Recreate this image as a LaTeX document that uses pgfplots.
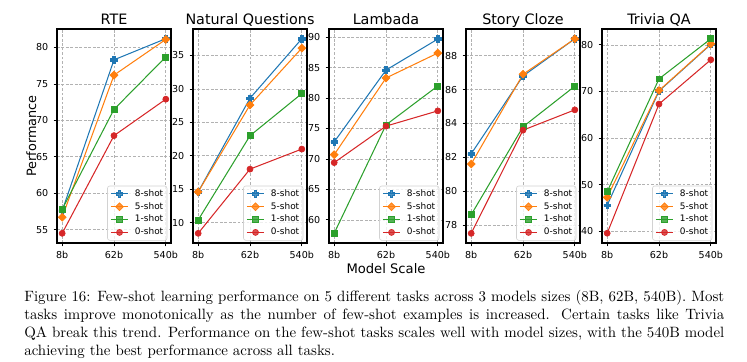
\documentclass[border=0pt]{standalone}
\usepackage{pgfplots}
\pgfplotsset{compat=1.18}
\usepackage{fontspec}
\newfontfamily\dejavu{DejaVu Sans}
\definecolor{tabblue}{HTML}{1F77B4}
\definecolor{taborange}{HTML}{FF7F0E}
\definecolor{tabgreen}{HTML}{2CA02C}
\definecolor{tabred}{HTML}{D62728}
\pgfdeclareplotmark{Pplus}{%
  \pgfpathmoveto{\pgfqpoint{0.36\pgfplotmarksize}{\pgfplotmarksize}}%
  \pgfpathlineto{\pgfqpoint{0.36\pgfplotmarksize}{0.36\pgfplotmarksize}}%
  \pgfpathlineto{\pgfqpoint{\pgfplotmarksize}{0.36\pgfplotmarksize}}%
  \pgfpathlineto{\pgfqpoint{\pgfplotmarksize}{-0.36\pgfplotmarksize}}%
  \pgfpathlineto{\pgfqpoint{0.36\pgfplotmarksize}{-0.36\pgfplotmarksize}}%
  \pgfpathlineto{\pgfqpoint{0.36\pgfplotmarksize}{-\pgfplotmarksize}}%
  \pgfpathlineto{\pgfqpoint{-0.36\pgfplotmarksize}{-\pgfplotmarksize}}%
  \pgfpathlineto{\pgfqpoint{-0.36\pgfplotmarksize}{-0.36\pgfplotmarksize}}%
  \pgfpathlineto{\pgfqpoint{-\pgfplotmarksize}{-0.36\pgfplotmarksize}}%
  \pgfpathlineto{\pgfqpoint{-\pgfplotmarksize}{0.36\pgfplotmarksize}}%
  \pgfpathlineto{\pgfqpoint{-0.36\pgfplotmarksize}{0.36\pgfplotmarksize}}%
  \pgfpathlineto{\pgfqpoint{-0.36\pgfplotmarksize}{\pgfplotmarksize}}%
  \pgfpathclose\pgfusepathqfillstroke}
\pgfdeclareplotmark{Dmark}{%
  \pgfpathmoveto{\pgfqpoint{0pt}{\pgfplotmarksize}}%
  \pgfpathlineto{\pgfqpoint{\pgfplotmarksize}{0pt}}%
  \pgfpathlineto{\pgfqpoint{0pt}{-\pgfplotmarksize}}%
  \pgfpathlineto{\pgfqpoint{-\pgfplotmarksize}{0pt}}%
  \pgfpathclose\pgfusepathqfillstroke}
\pgfplotsset{
  every axis title shift=0pt,
  panel/.style={
    anchor=south west, scale only axis, width=76.38pt, height=143.38pt,
    xmin=-0.1, xmax=2.1, xtick={0,1,2}, xticklabels={8b,62b,540b},
    grid=major, grid style={dash pattern=on 1.8pt off 1.2pt, gray!60, line width=0.45pt},
    axis line style={line width=0.7pt},
    tick align=outside, tick pos=left, major tick length=2.3pt,
    tick style={black, line width=0.5pt},
    /pgf/number format/assume math mode=true,
    ticklabel style={font=\dejavu\fontsize{6.4}{7}\selectfont},
    title style={font=\dejavu\fontsize{9.6}{10}\selectfont, at={(0.5,1)}, anchor=base, yshift=3.1pt},
    ylabel style={font=\dejavu\fontsize{8.6}{9}\selectfont},
    ylabel shift=-7pt,
    xlabel style={font=\dejavu\fontsize{8.8}{9}\selectfont},
    xlabel shift=-4pt,
    legend cell align=left,
    legend image code/.code={\draw[mark repeat=2,mark phase=2] plot coordinates {(0pt,0pt) (5.8pt,0pt) (11.6pt,0pt)};},
    legend style={at={(1,0)}, anchor=south east, xshift=-2.5pt, yshift=1.6pt,
      draw=gray!35, rounded corners=1.5pt, fill=white, fill opacity=0.8, text opacity=1,
      font=\dejavu\fontsize{6.0}{6.5}\selectfont, inner xsep=1.9pt, inner ysep=1.8pt, row sep=1.6pt,
      nodes={inner sep=0.6pt, text height=4.5pt, text depth=1.3pt},
      /tikz/every odd column/.append style={column sep=3.6pt}},
  },
  s8/.style={tabblue, line width=0.7pt, mark=Pplus, mark size=2.2pt, mark options={solid, fill=tabblue, line width=0.5pt}},
  s5/.style={taborange, line width=0.7pt, mark=Dmark, mark size=2.6pt, mark options={solid, fill=taborange, line width=0.5pt}},
  s1/.style={tabgreen, line width=0.7pt, mark=square*, mark size=2.0pt, mark options={solid, fill=tabgreen, line width=0.5pt}},
  s0/.style={tabred, line width=0.7pt, mark=*, mark size=2.0pt, mark options={solid, fill=tabred, line width=0.5pt}},
}
\begin{document}
\begin{tikzpicture}
\useasboundingbox (0pt,0pt) rectangle (500.49pt,-242.54pt);
% RTE
\begin{axis}[panel, at={(38.19pt,-162.81pt)}, title={RTE}, ylabel={Performance},
  ymin=53.17, ymax=82.53, ytick={55,60,65,70,75,80}]
\addplot[s8] coordinates {(0,57.6) (1,78.3) (2,81.2)};
\addplot[s5] coordinates {(0,56.7) (1,76.2) (2,81.1)};
\addplot[s1] coordinates {(0,57.8) (1,71.5) (2,78.7)};
\addplot[s0] coordinates {(0,54.5) (1,67.9) (2,72.9)};
\legend{8-shot,5-shot,1-shot,0-shot}
\end{axis}
% Natural Questions
\begin{axis}[panel, at={(129.31pt,-162.81pt)}, title={Natural Questions},
  ymin=6.95, ymax=38.96, ytick={10,15,20,25,30,35}]
\addplot[s8] coordinates {(0,14.6) (1,28.6) (2,37.5)};
\addplot[s5] coordinates {(0,14.6) (1,27.6) (2,36.1)};
\addplot[s1] coordinates {(0,10.4) (1,23.0) (2,29.3)};
\addplot[s0] coordinates {(0,8.4) (1,18.0) (2,21.0)};
\legend{8-shot,5-shot,1-shot,0-shot}
\end{axis}
% Lambada
\begin{axis}[panel, at={(220.43pt,-162.81pt)}, title={Lambada}, xlabel={Model Scale},
  ymin=56.2, ymax=91.35, ytick={60,65,70,75,80,85,90}]
\addplot[s8] coordinates {(0,72.8) (1,84.6) (2,89.7)};
\addplot[s5] coordinates {(0,70.7) (1,83.3) (2,87.4)};
\addplot[s1] coordinates {(0,57.8) (1,75.6) (2,82.0)};
\addplot[s0] coordinates {(0,69.4) (1,75.4) (2,77.9)};
\legend{8-shot,5-shot,1-shot,0-shot}
\end{axis}
% Story Cloze
\begin{axis}[panel, at={(312.22pt,-162.81pt)}, title={Story Cloze},
  ymin=76.93, ymax=89.58, ytick={78,80,82,84,86,88}]
\addplot[s8] coordinates {(0,82.2) (1,86.8) (2,89.0)};
\addplot[s5] coordinates {(0,81.6) (1,86.9) (2,89.0)};
\addplot[s1] coordinates {(0,78.6) (1,83.8) (2,86.2)};
\addplot[s0] coordinates {(0,77.5) (1,83.6) (2,84.8)};
\legend{8-shot,5-shot,1-shot,0-shot}
\end{axis}
% Trivia QA
\begin{axis}[panel, at={(403.34pt,-162.81pt)}, title={Trivia QA},
  ymin=37.5, ymax=83.4, ytick={40,50,60,70,80}]
\addplot[s8] coordinates {(0,45.6) (1,70.1) (2,80.1)};
\addplot[s5] coordinates {(0,47.3) (1,70.2) (2,80.2)};
\addplot[s1] coordinates {(0,48.5) (1,72.7) (2,81.3)};
\addplot[s0] coordinates {(0,39.6) (1,67.3) (2,76.8)};
\legend{8-shot,5-shot,1-shot,0-shot}
\end{axis}
\node[anchor=north west, inner sep=0pt, text width=469pt, align=justify,
  font=\fontsize{10}{12}\selectfont] at (16.08pt,-193.7pt)
  {\strut Figure 16: Few-shot learning performance on 5 different tasks across 3 models sizes (8B, 62B, 540B). Most\linebreak
   tasks improve monotonically as the number of few-shot examples is increased. Certain tasks like Trivia\linebreak
   QA break this trend. Performance on the few-shot tasks scales well with model sizes, with the 540B model\linebreak
   achieving the best performance across all tasks.};
\end{tikzpicture}
\end{document}
